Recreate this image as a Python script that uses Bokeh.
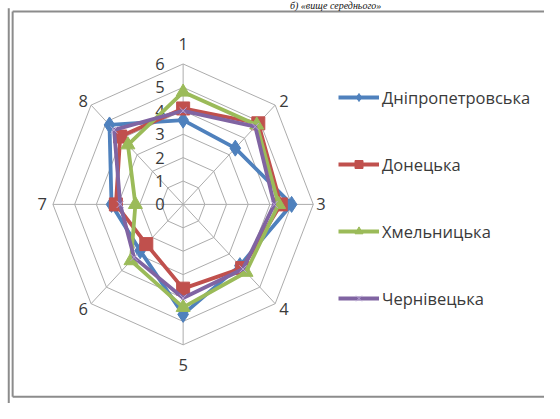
import numpy as np
from bokeh.plotting import figure
from bokeh.models import Range1d, Legend, LegendItem
from bokeh.core.properties import value
from bokeh.embed import file_html
from bokeh.resources import INLINE

# ---- data ----
axis_labels = ["1", "2", "3", "4", "5", "6", "7", "8"]
radial_ticks = [0, 1, 2, 3, 4, 5, 6]
series_names = ["Дніпропетровська", "Донецька", "Хмельницька", "Чернівецька"]
dnipro = [3.6, 3.4, 5.0, 3.7, 4.7, 2.8, 3.3, 4.8]
donetsk = [4.1, 4.9, 4.5, 3.85, 3.6, 2.4, 3.1, 4.1]
khmeln = [4.8, 4.8, 4.4, 4.1, 4.4, 3.4, 2.2, 3.6]
cherniv = [4.0, 4.7, 4.2, 3.9, 4.0, 3.2, 2.9, 4.5]
title_text = "б) «вище середнього»"

REF_W, REF_H = 560, 419
W, H = 544, 403
K = W / REF_W                       # pixel scale of the figure vs reference
SX, SY = 134 / 6, 146 / 6          # reference px per unit
CX, CY = 188, 212                   # centre in reference px


def fx(xp):
    return (xp - CX) / SX


def fy(yp):
    return (CY - yp) / SY


def px(v):
    return v * K


p = figure(width=W, height=H, output_backend="svg", toolbar_location=None,
           x_range=Range1d(fx(0), fx(REF_W)), y_range=Range1d(fy(REF_H), fy(0)),
           min_border=0, x_axis_type=None, y_axis_type=None)
p.grid.visible = False
p.outline_line_color = None
p.background_fill_color = "white"
p.border_fill_color = "white"

n = len(axis_labels)
ang = np.arange(n) * 2 * np.pi / n
sin, cos = np.sin(ang), np.cos(ang)
rmax = radial_ticks[-1]
txt_col = "#3a3a3a"
fs = "%.1fpx" % (17 * K)

# grid rings and spokes
grid_col = "#acacac"
for r in radial_ticks[1:]:
    xs = list(r * sin) + [r * sin[0]]
    ys = list(r * cos) + [r * cos[0]]
    p.line(xs, ys, line_color=grid_col, line_width=1)
p.segment(x0=[0] * n, y0=[0] * n, x1=list(rmax * sin), y1=list(rmax * cos),
          line_color=grid_col, line_width=1)

# radial tick labels
p.text(x=[0] * len(radial_ticks), y=radial_ticks, text=[str(t) for t in radial_ticks],
       x_offset=px(-19), text_align="right", text_baseline="middle",
       text_font=value("Open Sans"), text_font_size=fs, text_color=txt_col)

# category labels
offs_x = [px(v) for v in [0, 9, 8, 9, 0, -8, -11, -8]]
offs_y = [px(v) for v in [-21, -4, 0, 5, 21, 5, 0, -4]]
p.text(x=list(rmax * sin), y=list(rmax * cos), text=axis_labels,
       x_offset=offs_x, y_offset=offs_y, text_align="center", text_baseline="middle",
       text_font=value("Open Sans"), text_font_size=fs, text_color=txt_col)

colors = ["#4F81BD", "#C0504D", "#9BBB59", "#8064A2"]
markers = ["diamond", "square", "triangle", "x"]
msizes = [16, 13, 14, 10]
data = [dnipro, donetsk, khmeln, cherniv]
items = []
for name, vals, c, m, ms in zip(series_names, data, colors, markers, msizes):
    v = np.array(vals)
    xs = list(v * sin) + [v[0] * sin[0]]
    ys = list(v * cos) + [v[0] * cos[0]]
    ln = p.line(xs, ys, line_color=c, line_width=3.8)
    if m == "x":
        sc = p.scatter(list(v * sin), list(v * cos), marker=m, size=ms,
                       line_color="#b9a6d6", line_width=1)
    else:
        sc = p.scatter(list(v * sin), list(v * cos), marker=m, size=ms,
                       fill_color=c, line_color=c)
    items.append(LegendItem(label=name, renderers=[ln, sc]))

# legend: glyph from x=348..390, rows centred at y=113,179,246,312 (reference px)
row_h = 20
legend = Legend(items=items,
                location=(px(348), px(REF_H - 312 - row_h / 2) - 1),
                orientation="vertical",
                glyph_width=int(round(px(42))), glyph_height=row_h, label_height=row_h,
                spacing=int(round(px(66))) - row_h,
                padding=0, margin=0, label_standoff=3,
                border_line_color=None, background_fill_alpha=0,
                label_text_font="Open Sans", label_text_font_size=fs,
                label_text_color=txt_col)
p.add_layout(legend)

# document frame lines (page decoration)
fr_col = "#8c8c8c"
p.segment(x0=[fx(8.5), fx(12.5), fx(12.5), fx(12.5)],
          y0=[fy(8), fy(11.5), fy(11.5), fy(412)],
          x1=[fx(8.5), fx(12.5), fx(REF_W), fx(REF_W)],
          y1=[fy(REF_H), fy(412), fy(11.5), fy(412)],
          line_color=fr_col, line_width=2)

# caption above the frame (cropped in the source, shown small here)
p.text(x=[fx(345)], y=[fy(10.5)], text=[title_text], text_align="center",
       text_baseline="bottom", text_font=value("Liberation Serif"),
       text_font_style="italic", text_font_size="10px", text_color="#111111")

open("out.html", "w").write(file_html(p, INLINE))
